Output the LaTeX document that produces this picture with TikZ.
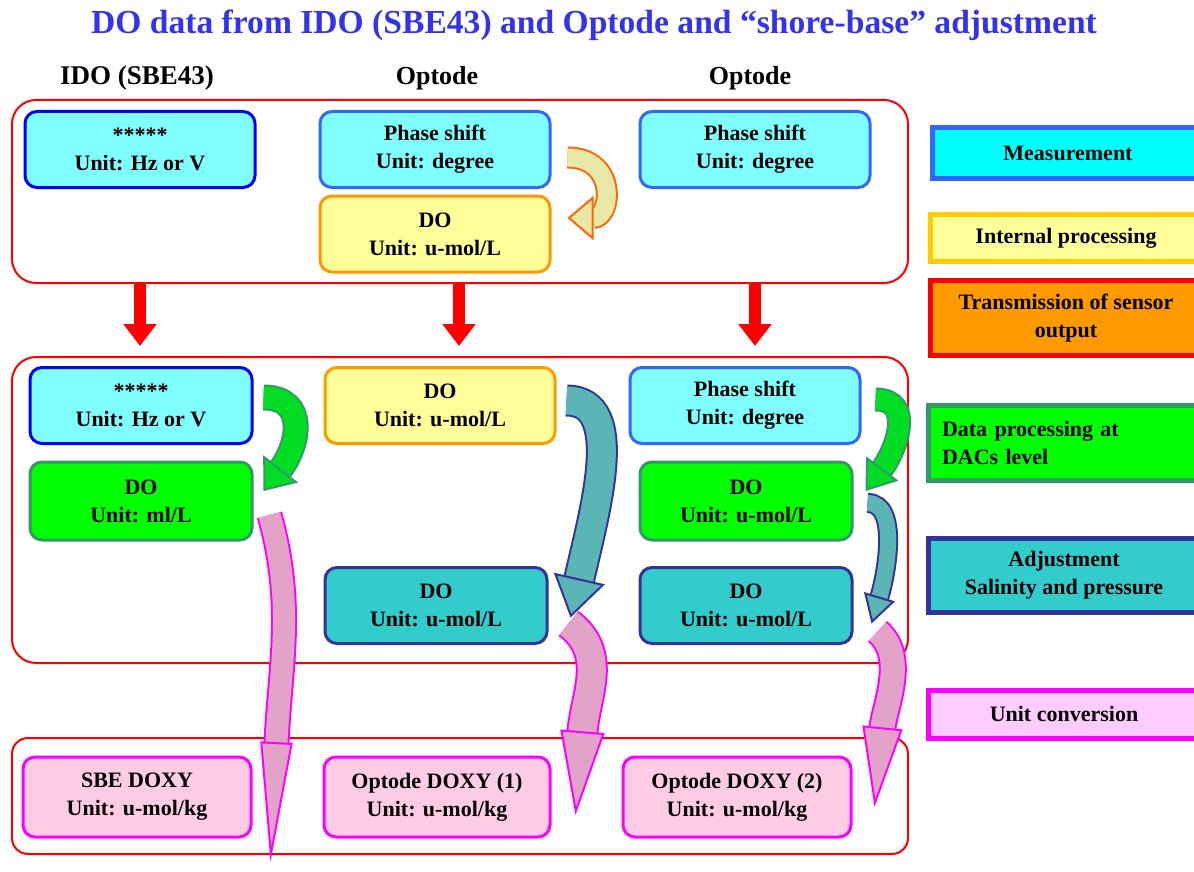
\documentclass[tikz,border=0pt]{standalone}
\usepackage{fontspec}
\setmainfont{Liberation Serif}
\usetikzlibrary{positioning,arrows.meta,calc}

\definecolor{titleblue}{HTML}{3333EE}
\definecolor{cyanlt}{HTML}{80FFFF}
\definecolor{cyanleg}{HTML}{00FFFF}
\definecolor{idoblue}{HTML}{0000FF}
\definecolor{measblue}{HTML}{3366FF}
\definecolor{yellowlt}{HTML}{FFFF99}
\definecolor{orangebd}{HTML}{FF9900}
\definecolor{goldbd}{HTML}{FFCC00}
\definecolor{dacgreen}{HTML}{00FF00}
\definecolor{dacbd}{HTML}{339966}
\definecolor{adjteal}{HTML}{33CCCC}
\definecolor{adjnavy}{HTML}{333399}
\definecolor{convpink}{HTML}{FFCCE6}
\definecolor{convleg}{HTML}{FFCCFF}
\definecolor{convbd}{HTML}{FF00FF}
\definecolor{arrgreen}{HTML}{00DD22}
\definecolor{arrteal}{HTML}{5BB5B5}
\definecolor{arrpink}{HTML}{E3A3C8}
\definecolor{arrint}{HTML}{E8E8A8}
\definecolor{arrorange}{HTML}{FF6600}

\begin{document}
\begin{tikzpicture}[x=0.5pt,y=-0.5pt,
   font=\bfseries\fontsize{11}{14}\selectfont,
   box/.style={rounded corners=6pt, line width=1.5pt, align=center, inner sep=0pt,
               minimum width=115pt, minimum height=38pt},
   meas/.style={box, fill=cyanlt, draw=measblue},
   ido/.style={box, fill=cyanlt, draw=idoblue},
   intern/.style={box, fill=yellowlt, draw=orangebd},
   dac/.style={box, fill=dacgreen, draw=dacbd},
   adj/.style={box, fill=adjteal, draw=adjnavy},
   conv/.style={box, fill=convpink, draw=convbd},
   group/.style={draw=red, line width=1pt, rounded corners=12pt, inner sep=0pt},
   legend/.style={line width=2.5pt, inner sep=0pt, minimum width=136pt, align=center},
   tx/.style={draw=red, line width=6pt, -{Triangle[length=11pt,width=16pt]}, shorten >=5pt},
   bend/.style={draw=#1, line width=1pt},
   ]
\useasboundingbox (0,0) rectangle (1194,872);

% title and column heads
\node[text=titleblue, font=\bfseries\fontsize{16.8}{20}\selectfont] (title) at (594,25)
   {DO data from IDO (SBE43) and Optode and “shore-base” adjustment};
\node[font=\bfseries\fontsize{13.5}{16}\selectfont] (hA) at (137,78) {IDO (SBE43)};
\node[font=\bfseries\fontsize{13}{16}\selectfont] (hB) at (437,78) {Optode};
\node[font=\bfseries\fontsize{13}{16}\selectfont] (hC) at (750,78) {Optode};

% the three frames
\node[group, minimum width=448pt, minimum height=91.5pt] (top) at (460,191.5) {};
\node[group, minimum width=448pt, minimum height=153pt] (mid) at (460,510) {};
\node[group, rounded corners=8pt, minimum width=448pt, minimum height=58pt] (bot) at (460,796) {};

% sensor
\node[ido] (A1) at (140,149.5) {*****\\Unit: Hz or V};
\node[meas] (B1) at (435,149.5) {Phase shift\\Unit: degree};
\node[intern] (B2) at (435,234) {DO\\Unit: u-mol/L};
\node[meas] (C1) at (755,149.5) {Phase shift\\Unit: degree};

% DACs
\node[ido, minimum width=111pt] (A2) at (141,405.5) {*****\\Unit: Hz or V};
\node[dac, minimum width=111pt, minimum height=39pt] (A3) at (141,501) {DO\\Unit: ml/L};
\node[intern] (B3) at (440,405.5) {DO\\Unit: u-mol/L};
\node[adj, minimum width=111pt] (B4) at (436,605.5) {DO\\Unit: u-mol/L};
\node[meas] (C2) at (745,405.5) {Phase shift\\Unit: degree};
\node[dac, minimum width=106pt, minimum height=39pt] (C3) at (746,501) {DO\\Unit: u-mol/L};
\node[adj, minimum width=106pt] (C4) at (746,605.5) {DO\\Unit: u-mol/L};

% final
\node[conv, minimum width=114pt, minimum height=40pt] (D1) at (137,797) {SBE DOXY\\Unit: u-mol/kg};
\node[conv, minimum width=113pt, minimum height=40pt] (D2) at (437,797) {Optode DOXY (1)\\Unit: u-mol/kg};
\node[conv, minimum width=114pt, minimum height=40pt] (D3) at (737,797) {Optode DOXY (2)\\Unit: u-mol/kg};

% legend
\node[legend, fill=cyanleg, draw=measblue, minimum height=25pt] (L1) at (1068,153) {Measurement};
\node[legend, fill=yellowlt, draw=goldbd, minimum height=23.5pt] (L2) at (1066,238) {Internal processing};
\node[legend, fill=orangebd, draw=red, minimum height=37.5pt] (L3) at (1066,318) {Transmission of sensor\\output};
\node[legend, fill=dacgreen, draw=dacbd, minimum height=37.5pt, text width=122pt, align=left] (L4) at (1064,443) {Data processing at\\DACs level};
\node[legend, fill=adjteal, draw=adjnavy, minimum height=37pt] (L5) at (1064,575) {Adjustment\\Salinity and pressure};
\node[legend, fill=convleg, draw=convbd, minimum height=24pt] (L6) at (1064,714) {Unit conversion};

% transmission
\draw[tx] (top.south -| A1.south) -- (mid.north -| A1.south);
\draw[tx] ([xshift=12pt]top.south -| B2.south) -- ([xshift=12pt]mid.north -| B2.south);
\draw[tx] (top.south -| C1.south) -- (mid.north -| C1.south);

% curved arrows
\draw[bend=arrorange, double=arrint, double distance=9pt,
      -{Triangle[length=13pt,width=22pt,fill=arrint]}]
   ($(B1.east)+(16,8)$) .. controls +(50,0) and +(45,0) .. ($(B2.east)+(16,-16)$);
\draw[bend=dacbd, double=arrgreen, double distance=11pt,
      -{Triangle[length=14pt,width=22pt,fill=arrgreen]}]
   ($(A2.east)+(10,-8)$) .. controls +(45,0) and +(35,-45) .. ($(A3.east)+(10,-10)$);
\draw[bend=dacbd, double=arrgreen, double distance=10pt,
      -{Triangle[length=14pt,width=20pt,fill=arrgreen]}]
   ($(C2.east)+(14,-6)$) .. controls +(40,0) and +(30,-40) .. ($(C3.east)+(12,-10)$);
\draw[bend=adjnavy, double=arrteal, double distance=14pt,
      -{Triangle[length=20pt,width=26pt,fill=arrteal]}]
   ($(B3.east)+(10,-5)$) .. controls +(60,0) and +(25,-110) .. ($(B4.east)+(22,12)$);
\draw[bend=adjnavy, double=arrteal, double distance=8pt,
      -{Triangle[length=14pt,width=16pt,fill=arrteal]}]
   ($(C3.east)+(14,2)$) .. controls +(32,0) and +(15,-50) .. ($(C4.east)+(18,18)$);
\draw[bend=convbd, double=arrpink, double distance=11pt,
      -{Triangle[length=60pt,width=16pt,fill=arrpink]}]
   ($(A3.east)+(16,14)$) .. controls +(25,90) and +(10,-200) .. ($(D1.east)+(18,65)$);
\draw[bend=convbd, double=arrpink, double distance=14pt,
      -{Triangle[length=42pt,width=22pt,fill=arrpink]}]
   ($(B4.east)+(20,18)$) .. controls +(40,30) and +(10,-120) .. ($(D2.east)+(24,18)$);
\draw[bend=convbd, double=arrpink, double distance=12pt,
      -{Triangle[length=40pt,width=20pt,fill=arrpink]}]
   ($(C4.east)+(24,26)$) .. controls +(30,25) and +(10,-100) .. ($(D3.east)+(22,10)$);
\end{tikzpicture}
\end{document}
